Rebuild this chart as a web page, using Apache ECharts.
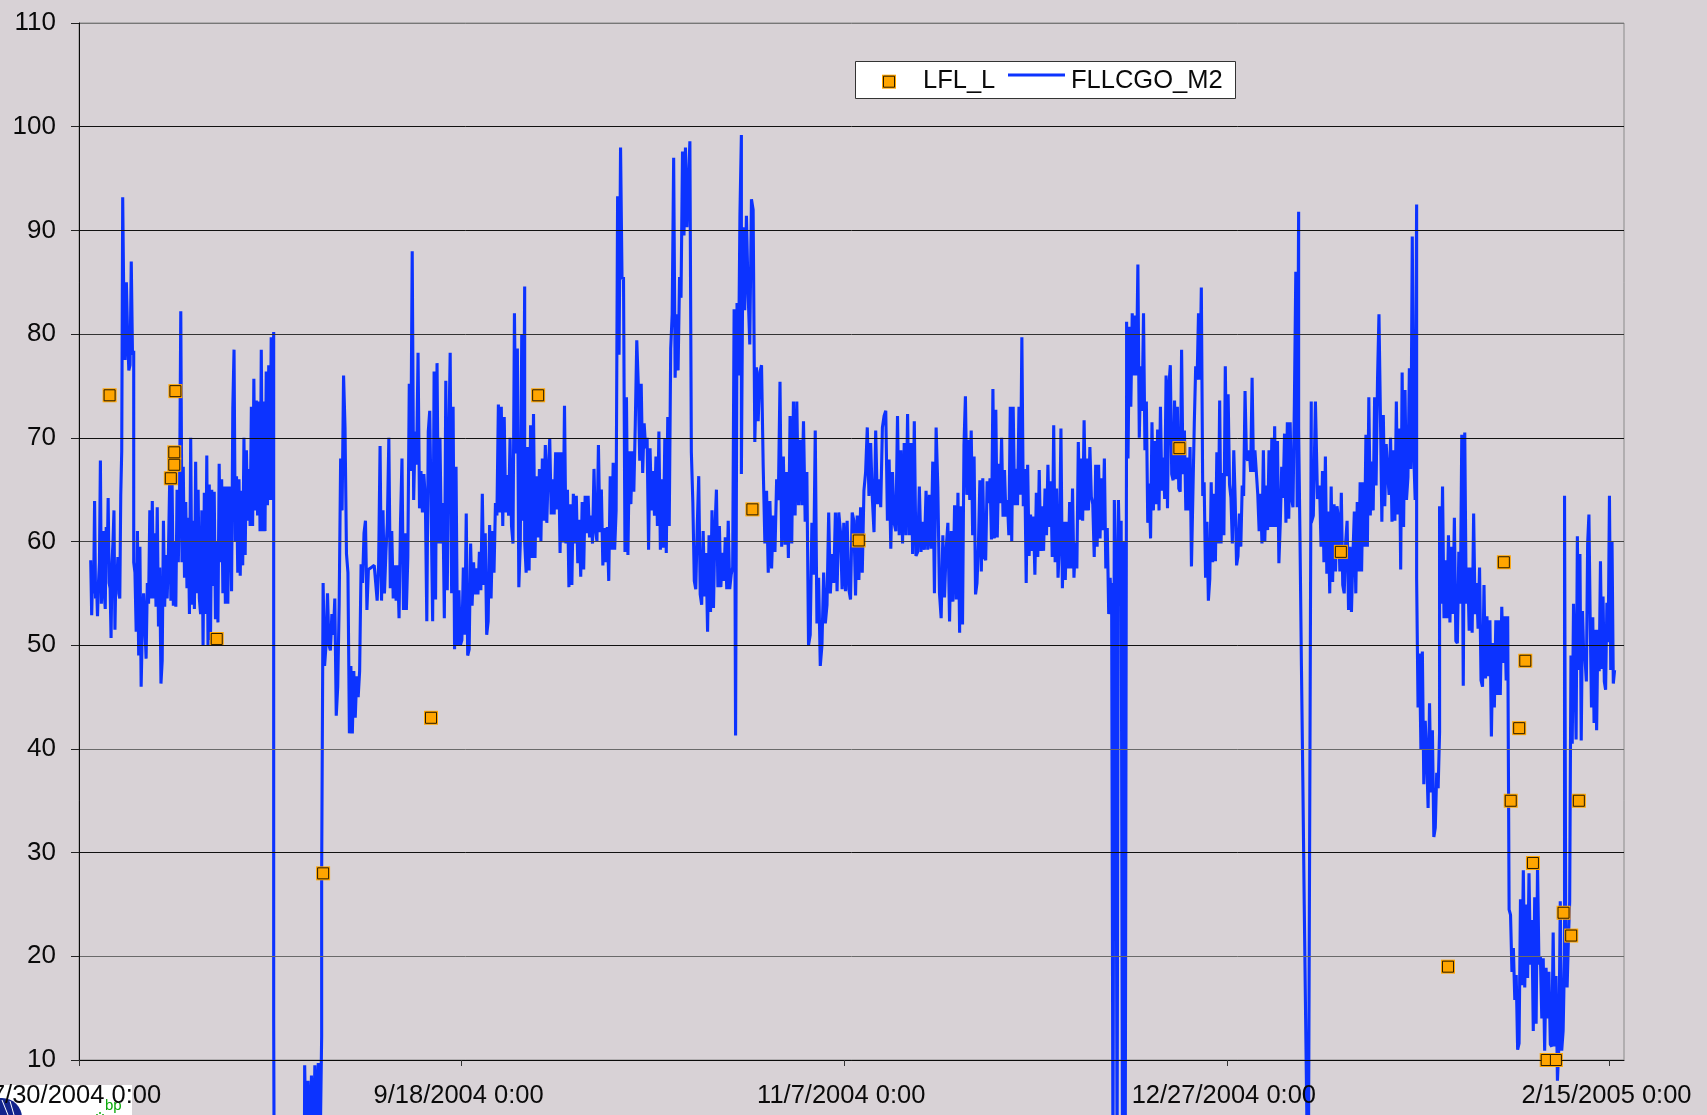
<!DOCTYPE html>
<html><head><meta charset="utf-8"><title>LFL_L and FLLCGO_M2</title>
<style>html,body{margin:0;padding:0;background:#D8D2D6;overflow:hidden}#c{width:1707px;height:1115px}</style>
<script src="https://cdn.jsdelivr.net/npm/echarts@6/dist/echarts.min.js"></script>
</head><body><div id="c"></div>
<script>
// tick labels
const yMin = 10, yMax = 110, yStep = 10;
const xMaxDay = 201.9;
const xTickDays = [0, 50, 100, 150, 200];
const xTickLabels = ['7/30/2004 0:00', '9/18/2004 0:00', '11/7/2004 0:00', '12/27/2004 0:00', '2/15/2005 0:00'];
const seriesNames = ['LFL_L', 'FLLCGO_M2'];

// LFL_L lab samples: days after 7/30/2004 and value
const lflDays = [4.0, 12.6, 12.45, 12.45, 12.0, 18.0, 31.9, 46.0, 60.0, 88.0, 101.9, 143.8, 164.9, 178.9, 186.2, 187.1, 188.2, 189.0, 190.0, 191.8, 193.0, 194.0, 195.0, 196.0];
const lflValues = [74.1, 74.5, 68.6, 67.4, 66.1, 50.6, 28, 43, 74.1, 63.1, 60.1, 69, 59, 19, 58, 35, 42, 48.5, 29, 10, 10, 24.2, 22, 35];

// FLLCGO_M2 readings, runs of evenly spaced samples: each run has [first day, last day] and its values
const runADays = [1.53, 5.71];
const runA = [58.2,52.9,57,55,63.9,54.5,56,52.8,56,58,67.8,54,59,61,55,53.5,61.4,58,64.2,56,55.5,50.7,58,60,63,51.5,57,56,58.5,55,54.5,64.5,68.7,93.2];
const runBDays = [5.71, 7.15];
const runB = [93.2,82,77.5,85,80,76.5,77,87,78,78.4];
const runCDays = [7.15, 25.44];
const runC = [58,57,51.3,61,49,59.5,46,52,55,52,48.7,56,54,63,54.5,63.9,54.5,60.8,53.7,63.3,51.8,57.5,46.3,48.5,62,53.7,58.7,54.5,58.7,65.5,54.3,65.5,53.8,60,53.7,65,58,64,82.2,58,67.2,56.5,63.8,55.5,62.3,53,70,53.9,62,53.5,67.7,55,65,54.5,53,63,50,64.7,53,68.3,50,65.5,50.5,65,55.7,64.8,52.5,60,52.2,67.5,58,66,55,65.3,54,65.3,54,65.3,64,55.2,72.8,78.5,60,66.3,57,66,56.7,64.9,57.7,70,58.7,68.8,62,67,61.5,73,61.5,75.7,63,73.6,62.5,73.5,61,78.5,61,73.5,61,76.4,63.5,77,64,79.7,64,80.2];
const runDDays = [25.44, 25.5];
const runD = [14,0];
const runD2Days = [25.5, 29.45];
const runD2 = [0,0];
const runEDays = [29.49, 31.71];
const runE = [9.5,0,8,0,8.5,0,9.5,3,9.7,0,12.3];
const runFDays = [31.71, 58.24];
const runF = [28,56,48,50,55,50,49.5,53,51,54.5,43.2,46,54,68,63,76,71,58.8,57,41.5,48,41.5,47.5,43,47,45,47.5,57.8,56,60.8,62,53.4,57.3,57.4,57.5,57.6,57.7,56,54.3,57.7,69.2,54.3,63,55,59,61.8,70,55.5,61,54.5,57.7,54.3,57.7,52.6,62,68,53.4,60.8,53.4,58.5,75.2,66.8,88,64,70.6,67.4,78.2,63.2,66.8,62.8,66.5,64,52.3,70.6,72.6,62.8,52.3,76.4,54.4,77.2,59.8,70,59.8,63.7,52.6,75.5,55.3,69.2,78.2,55,73,49.6,67.2,50,55.3,50,50.5,57.5,51,62.7,49,49.6,59.8,53.8,58,54.9,57.4,54.9,59,55.3,64.6,55.8,60.8,51,52.3,61.6,54.5,61,57,63.7,62.5,73.2,62.8,73,61.5,72,62.8,66.4,62.5,70,61.5,59.8,82,68.5,78.6,55.6,59.8,80,62,84.6];
const runGDays = [58.24, 85.42];
const runG = [60,57,69.1,57.2,71.2,58.4,72.3,58.4,66.3,60.4,67,60,68,62,69.3,61.8,67,69.9,62.6,66,62.6,68.6,63.1,68.6,58.9,68.6,59.9,73.1,59.8,65,55.6,63.6,55.8,64.6,59.8,64.4,57.9,62.1,56.6,63.8,57.3,64.4,60.8,64.4,60.4,62.5,59.8,67,61.1,60,69.3,60.9,65,57.7,61.3,58,61.4,56.2,66.3,59.2,67.6,59.2,63,93.3,78,98,85.3,85.5,59,73.9,58.7,68.7,63.6,68.7,64.8,71.4,79.4,75.2,67.8,75.2,66.6,71.4,69,70,59.2,69,63,66.8,62.5,68.2,61.5,70.6,59.2,66,59.4,69.9,58.9,72,61.5,78.6,81.9,97,75.8,81.9,76.5,85.5,83.5,97.6,89.5,98,90.3,90.4,98.6,68.6,63.8,56.2,55.4,61.5,66.3,54.9,53.9,61,54.7,58.9,51.3,60.6,53.2,63,53.6,61.2,65,55.6,61.5,55.6,58.9,56.2,60.4,55.4,62,55.4,56.8,57.5];
const runHDays = [85.42, 86.56];
const runH = [57.5,82.4,41.3,83,76,91.5,99.2];
const runIDays = [86.56, 115.08];
const runI = [66.5,90.3,82.3,91.4,84,79,93,92,69.6,76.8,71.6,76.3,77,67.2,59.8,64.9,57,63.9,57.4,62.5,59,66,64,75.4,59.5,68.2,59.7,66.7,58.4,72.1,59.8,73.5,62.5,73.5,63.5,69.8,63.5,71.6,61.9,66.7,50,51,61.8,56.8,70.7,52.1,56.5,48,50,57,52.1,53.9,62.8,55,58.8,56,62.8,55.2,62.8,61,55.4,61.8,55.2,62,55.4,54.4,62.8,62,54.8,62.5,56.3,63.3,57,64.9,66.7,71,64.4,69.5,64.2,60.9,70.7,63.6,66,63.3,71,72.1,72.6,62,67.9,59.3,66.7,61.8,61,72.1,60.6,68.8,59.8,69.5,60.6,72.3,60.6,69.5,58.8,71.6,58.6,59,65.3,59,61.9,59.2,64.9,59.2,64.5,59.3,67.7,55,71,65.3,55,52.6,60.6,54.6,59.3,61.8,52.3,61,54.2,63.5,54.4,64.7,51.2];
const runJDays = [115.08, 134.94];
const runJ = [52,63.4,52,69.3,74,64.5,69.8,64,70.7,60.6,68.2,54.9,56,59.7,65.9,57.1,66.1,58.5,58.2,65.8,63.7,66.1,60.2,74.7,60.3,72.7,60.4,67.5,63.7,70,62.4,66.9,62.4,64,60.6,73,60,73,63.5,67,63.5,73,64.5,79.7,63.4,67,56,67.4,58.6,62.6,59.1,62.4,56.8,64.7,58.5,66.9,59.1,63.4,59.1,65.1,60.6,67.4,61.4,65.8,58.5,71.2,58,65.1,56.5,59.9,70.9,55.5,61.9,56.3,61.9,57.4,63.8,57.4,65.1,56.5,59.9,57.4,69.6,62.1,68,62,71.7,63,68,63,69.1,64.3,63.6,58.5,67.4,59.5,67.4,60.3,66.1,61.1,68,57.4,61.3,53,56.5,53];
const runKDays = [134.94, 136.9];
const runK = [56,0,64,58,0,64,58,62,0,60,0,75];
const runLDays = [136.9, 159.38];
const runL = [81.2,68,80.7,73,82,76,81.8,76,86.7,70,76.9,72.6,82,68.8,73.5,61.8,65.6,60.3,71.5,63,69.7,63.6,70.8,63,73,64.9,68.1,64.1,76,63.2,75,77,66.5,65.9,73.6,66,73,65.1,64.8,78.5,66.5,70.7,63,68.1,63,69.1,57.6,57.5,71.3,76.9,75.6,82,75.6,84.5,64.4,65.7,56.5,61.9,54.3,56.4,65.7,58,64.6,58.1,68.6,59.8,73.6,59.8,66.6,60.6,76.9,66.3,74.2,65.5,64.2,59.8,68.8,64.1,57.7,58.6,62.7,59.5,65.4,64.4,74.5,68.1,67.8,68.8,66.7,75.8,66.7,68.8,66.7,64.6,61,64.6,59.8,68.8,60,65.4,61.1,68.8,61.4,70,61.4,71.1,61.4,69.7,57.9,61.8,67.2,64.2,70.4,61.8,71.5,62.2,71.5,64.2,63.3,73.4,86,63.3,91.8];
const runMDays = [159.38, 161.03];
const runM = [71,60,48,37,25,14,3,0,0,73.5];
const runNDays = [161.03, 162.12];
const runN = [61.8,62.5,73.5,64.1,65.4];
const runODays = [162.12, 174.8];
const runO = [65.5,59.5,66.8,58,68.2,56.9,62.9,55,65.3,56.1,63.6,57.1,63.4,62.3,57.1,64.7,55.8,55,59.9,62,53.4,59.5,53.2,58.6,62.9,55,63.8,57.1,65.7,57.1,65.7,59.5,70.3,59.5,73.9,62.5,67.7,63,73.9,65.4,75.6,81.9,72.2,61.9,72.2,63.4,69.4,66.6,64.5,70,61.9,68.8,62,73.5,62.6,70.9,57.3,76.3,61.4,74.6,64,66.2,76.7,67,89.4,68.5,64,92.5];
const runPDays = [174.8, 177.8];
const runP = [56.5,44,49.2,40,49.4,36.6,42.7,39.3,34.3,44.4,35.8,41.8,31.5,32.4,37.7,36.2,41.6];
const runQDays = [177.8, 186.7];
const runQ = [63.4,54,65.3,52.6,58.2,52.6,60.6,52.2,59.5,53,62.3,50.4,50.2,59,54,70.3,46.1,70.5,54,57.5,51.4,57.5,51.2,62.7,53,56,51.6,57.5,46.6,46,55.8,46.8,52.8,47,52.4,41.2,50.2,44,52.4,45.2,52.4,45.2,53.7,48.3,52.8,46.6,52.8];
const runRDays = [186.7, 194.13];
const runR = [52.8,24.5,24,18.5,20.8,15.8,18.2,11,11.6,25.5,17.2,28.3,17,25,17.9,28,19.2,23.5,12.8,25.7,13.5,28.7,19.2,20,14,19.8,10.9,18.9,14,18.5,11.5,11.3,22.3,11.3,18.1,8,11.3,25.3,10.9,12.8,20];
const runSDays = [194.13, 200.67];
const runS = [64.4,19,17,21.5,25.3,49,40.5,54,48.8,40.9,60.5,47.6,58.8,40.8,53.3,48.8,48.6,46.5,59.8,62.6,52.3,44,52.7,42.5,51.5,41.8,51.5,47.5,58.1,47.7,54.7,46.5,45.7,54.1,50.3,64.4,47.6,60,46.3,47.6];

const runs = [[runADays, runA], [runBDays, runB], [runCDays, runC], [runDDays, runD], [runD2Days, runD2], [runEDays, runE], [runFDays, runF], [runGDays, runG], [runHDays, runH], [runIDays, runI], [runJDays, runJ], [runKDays, runK], [runLDays, runL], [runMDays, runM], [runNDays, runN], [runODays, runO], [runPDays, runP], [runQDays, runQ], [runRDays, runR], [runSDays, runS]];

const flowData = [];
runs.forEach(function (run) {
  const first = run[0][0], last = run[0][1], vals = run[1];
  vals.forEach(function (v, i) {
    flowData.push([first + (last - first) * i / (vals.length - 1), v]);
  });
});
const lflData = lflDays.map(function (d, i) { return [d, lflValues[i]]; });

const BLUE = '#0C33FF', ORANGE = '#FFA500', INK = '#0a0a0a';
const FONT = '"Liberation Sans", Arial, sans-serif';
const gridShades = ['#111', '#6a6a6a', '#111', '#6a6a6a', '#111', '#444', '#111', '#333', '#111', '#111', '#777'];

const chart = echarts.init(document.getElementById('c'), null, { renderer: 'canvas' });
chart.setOption({
  animation: false,
  backgroundColor: '#D8D2D6',
  grid: { left: 79, right: 83, top: 23, bottom: 55, show: true, borderColor: '#8a8a8a', borderWidth: 1, backgroundColor: 'transparent', outerBoundsMode: 'none' },
  xAxis: {
    type: 'value', min: 0, max: xMaxDay, z: 5,
    splitLine: { show: false },
    axisLine: { lineStyle: { color: INK, width: 1 } },
    axisTick: { show: true, length: 6, customValues: xTickDays, lineStyle: { color: '#333', width: 1 } },
    axisLabel: {
      customValues: xTickDays, margin: 23, color: INK, fontFamily: FONT, fontSize: 25.5,
      padding: [0, 6, 0, 0], hideOverlap: false,
      formatter: function (v) { const i = xTickDays.indexOf(v); return i >= 0 ? xTickLabels[i] : ''; }
    }
  },
  yAxis: {
    type: 'value', min: yMin, max: yMax, interval: yStep, z: 5,
    splitLine: { show: true, lineStyle: { color: gridShades, width: 1 } },
    axisLine: { show: true, lineStyle: { color: INK, width: 1 } },
    axisTick: { show: true, length: 8, lineStyle: { color: '#222', width: 1 } },
    axisLabel: { margin: 23, color: INK, fontFamily: FONT, fontSize: 26, padding: [0, 0, 12, 0] }
  },
  legend: [
    { data: [{ name: seriesNames[0], icon: 'rect', itemStyle: { opacity: 0 } }], left: 878, top: 63, itemWidth: 11, itemHeight: 11, itemGap: 0, selectedMode: false, z: 20,
      textStyle: { fontFamily: FONT, fontSize: 25.5, color: INK, padding: [0, 0, 0, 23] } },
    { data: [{ name: seriesNames[1], icon: 'rect', itemStyle: { opacity: 0 } }], left: 1002, top: 63, itemWidth: 57, itemHeight: 3, selectedMode: false, z: 20,
      textStyle: { fontFamily: FONT, fontSize: 25.5, color: INK, padding: [0, 0, 0, 2] } }
  ],
  graphic: { elements: [
    { type: 'rect', z: -5, shape: { x: 855.5, y: 61.5, width: 380, height: 37 }, style: { fill: '#fff', stroke: '#333', lineWidth: 1 } },
    { type: 'rect', z: -4, shape: { x: 882, y: 74.7, width: 14, height: 14 }, style: { fill: ORANGE } },
    { type: 'rect', z: -4, shape: { x: 883.5, y: 76.2, width: 11, height: 11 }, style: { fill: ORANGE, stroke: '#2a1c00', lineWidth: 1 } },
    { type: 'line', z: -4, shape: { x1: 1008, y1: 75, x2: 1065, y2: 75 }, style: { stroke: BLUE, lineWidth: 3 } },
    { type: 'rect', z: -5, shape: { x: 0, y: 1085, width: 132, height: 30 }, style: { fill: '#fff' } },
    { type: 'circle', z: -4, shape: { cx: 2, cy: 1118, r: 20 }, style: { fill: '#12248c' } },
    { type: 'line', z: -3, shape: { x1: 2, y1: 1100, x2: 8, y2: 1115 }, style: { stroke: '#fff', lineWidth: 1 } },
    { type: 'line', z: -3, shape: { x1: 10, y1: 1101, x2: 14, y2: 1115 }, style: { stroke: '#fff', lineWidth: 1 } },
    { type: 'text', z: -3, style: { text: 'bp', x: 105, y: 1098, fill: '#0aa80a', fontFamily: FONT, fontSize: 15 } },
    { type: 'circle', z: -3, shape: { cx: 100, cy: 1113, r: 1 }, style: { fill: '#0aa80a' } },
    { type: 'circle', z: -3, shape: { cx: 97, cy: 1115, r: 1 }, style: { fill: '#0aa80a' } },
    { type: 'circle', z: -3, shape: { cx: 103, cy: 1115, r: 1 }, style: { fill: '#0aa80a' } }
  ] },
  series: [
    { name: seriesNames[1], type: 'line', data: flowData, showSymbol: false, symbol: 'none', clip: false, sampling: false, z: 3,
      lineStyle: { color: BLUE, width: 3.1 }, itemStyle: { color: BLUE }, silent: true },
    { name: 'halo', type: 'scatter', data: lflData, symbol: 'rect', symbolSize: 14, z: 4, silent: true, itemStyle: { color: ORANGE, opacity: 1 } },
    { name: seriesNames[0], type: 'scatter', data: lflData, symbol: 'rect', symbolSize: 11, z: 5, silent: true, itemStyle: { color: ORANGE, borderColor: '#2a1c00', borderWidth: 1, opacity: 1 } }
  ]
});
</script></body></html>
